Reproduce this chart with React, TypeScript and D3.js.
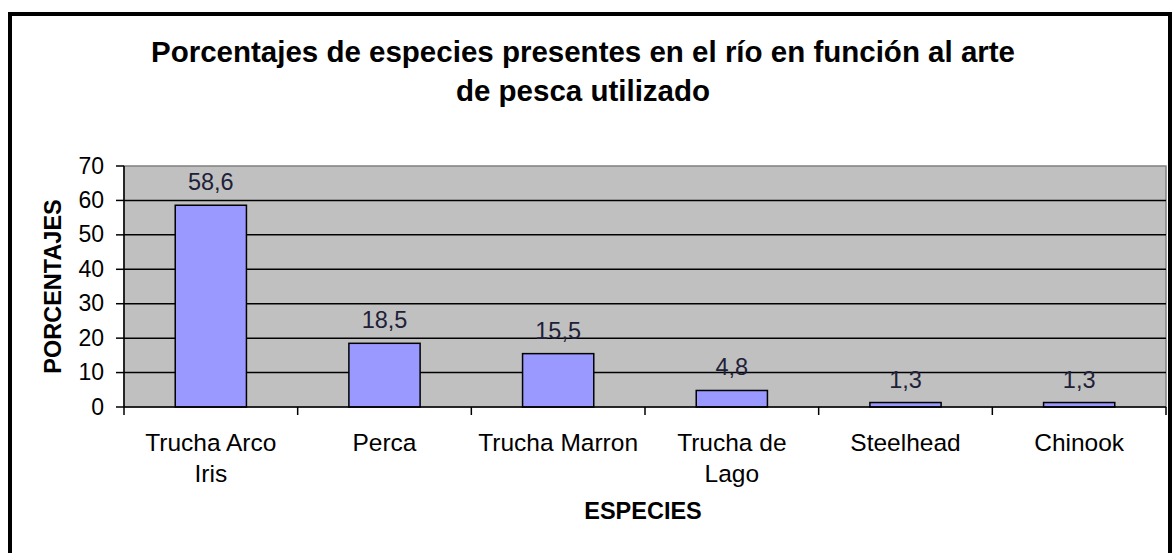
import * as d3 from "d3";

const categories = [["Trucha Arco", "Iris"], ["Perca"], ["Trucha Marron"], ["Trucha de", "Lago"], ["Steelhead"], ["Chinook"]];
const values = [58.6, 18.5, 15.5, 4.8, 1.3, 1.3];
const valueLabels = ["58,6", "18,5", "15,5", "4,8", "1,3", "1,3"];
const yTicks = [0, 10, 20, 30, 40, 50, 60, 70];

const W = 1176;
const H = 553;
const left = 124, right = 1166, top = 166, bottom = 407;

export default function App() {
  const x = d3.scaleBand<number>().domain(d3.range(values.length)).range([left, right]).padding(0);
  const y = d3.scaleLinear().domain([0, 70]).range([bottom, top]);
  const barW = x.bandwidth() * 0.41;
  const font = "Liberation Sans, Arial, sans-serif";

  return (
    <svg width={W} height={H} style={{ position: "absolute", left: 0, top: 0, fontFamily: font }}>
      <rect x={0} y={0} width={W} height={H} fill="#fff" />
      <rect x={10} y={14} width={1160} height={580} fill="none" stroke="#000" strokeWidth={4} />

      {/* title */}
      <text x={583} y={62} textAnchor="middle" fontSize={29.5} fontWeight="bold">
        Porcentajes de especies presentes en el río en función al arte
      </text>
      <text x={583} y={101} textAnchor="middle" fontSize={29.5} fontWeight="bold">
        de pesca utilizado
      </text>

      {/* plot area */}
      <rect x={left} y={top} width={right - left} height={bottom - top} fill="#c0c0c0" stroke="#808080" strokeWidth={1.5} />
      {yTicks.filter((t) => t > 0 && t < 70).map((t) => (
        <line key={t} x1={left} x2={right} y1={y(t)} y2={y(t)} stroke="#000" strokeWidth={1.5} />
      ))}

      {/* bars */}
      {values.map((v, i) => {
        const cx = (x(i) as number) + x.bandwidth() / 2;
        return (
          <g key={i}>
            <rect x={cx - barW / 2} y={y(v)} width={barW} height={bottom - y(v)} fill="#9999ff" stroke="#000" strokeWidth={1.5} />
            <text x={cx} y={y(v) - 15} textAnchor="middle" fontSize={23.5} fill="#202038">{valueLabels[i]}</text>
          </g>
        );
      })}

      {/* y axis */}
      <line x1={left} x2={left} y1={top} y2={bottom} stroke="#000" strokeWidth={1.5} />
      {yTicks.map((t) => (
        <g key={t}>
          <line x1={left - 8} x2={left} y1={y(t)} y2={y(t)} stroke="#000" strokeWidth={1.5} />
          <text x={left - 20} y={y(t) + 7.5} textAnchor="end" fontSize={23}>{t}</text>
        </g>
      ))}
      <text transform={`translate(61,${(top + bottom) / 2}) rotate(-90)`} textAnchor="middle" fontSize={23.5} fontWeight="bold">PORCENTAJES</text>

      {/* x axis */}
      <line x1={left} x2={right} y1={bottom} y2={bottom} stroke="#000" strokeWidth={1.5} />
      {d3.range(values.length + 1).map((i) => {
        const px = i < values.length ? (x(i) as number) : right;
        return <line key={i} x1={px} x2={px} y1={bottom} y2={bottom + 8} stroke="#000" strokeWidth={1.5} />;
      })}
      {categories.map((lines, i) => {
        const cx = (x(i) as number) + x.bandwidth() / 2;
        return (
          <text key={i} x={cx} y={451} textAnchor="middle" fontSize={24.5}>
            {lines.map((l, j) => (
              <tspan key={j} x={cx} dy={j === 0 ? 0 : 31}>{l}</tspan>
            ))}
          </text>
        );
      })}
      <text x={643} y={519} textAnchor="middle" fontSize={23.5} fontWeight="bold">ESPECIES</text>
    </svg>
  );
}
